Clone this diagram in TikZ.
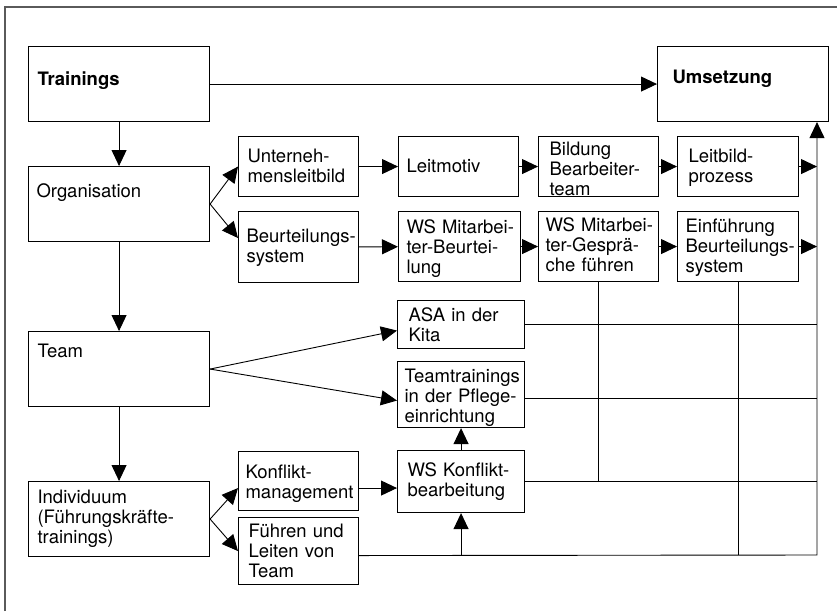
\documentclass[tikz,border=0pt]{standalone}
\usepackage{fontspec}
\setmainfont{TeX Gyre Heros}
\usepackage{tikz}
\usetikzlibrary{arrows.meta,positioning,calc}
\definecolor{fgray}{HTML}{5A5A5A}
\hyphenpenalty=10000
\exhyphenpenalty=10000

\begin{document}
\begin{tikzpicture}[x=1pt, y=-1pt,
    box/.style={rectangle, draw, line width=1.1pt, anchor=north west, inner xsep=8pt, inner ysep=0pt, align=left, font=\fontsize{18.5}{20}\selectfont},
    arr/.style={-{Triangle[length=16pt,width=15pt]}, line width=0.9pt},
    ln/.style={line width=0.9pt}
]
    \useasboundingbox (0,0) rectangle (837,611);
    \draw[fgray, line width=1.6pt] (5,611) -- (5,7) -- (837,7);

    % left column
    \node[box, inner xsep=9pt, text width=163pt, text height=39pt, text depth=36pt] (train) at (28,46) {\bfseries Trainings};
    \node[box, text width=165pt, text height=31pt, text depth=44pt] (org) at (28,166) {Organisation};
    \node[box, inner xsep=9pt, text width=163pt, text height=26pt, text depth=49pt] (team) at (28,331) {Team};
    \node[box, inner xsep=9pt, text width=163pt, text height=22pt, text depth=53pt] (indiv) at (28,481) {Individuum\\(Führungskräfte-\\trainings)};
    \node[box, inner xsep=15pt, text width=141pt, text height=37pt, text depth=38pt] (ums) at (657,46) {\bfseries Umsetzung};

    % organisation rows
    \node[box, inner xsep=9pt, text width=102pt, text height=26pt, text depth=34pt] (unt) at (238,136) {Unterneh-\\mensleitbild};
    \node[box, text width=104pt, text height=36pt, text depth=24pt] (leit) at (398,136) {Leitmotiv};
    \node[box, inner xsep=11pt, text width=98pt, text height=19pt, text depth=41pt] (bild) at (538,136) {Bildung\\Bearbeiter-\\team};
    \node[box, inner xsep=11pt, text width=99pt, text height=26pt, text depth=34pt] (lbp) at (677,136) {Leitbild-\\prozess};
    \node[box, text width=104pt, text height=31pt, text depth=40pt] (beu) at (238,211) {Beurteilungs-\\system};
    \node[box, text width=106pt, text height=22pt, text depth=48pt] (wsmb) at (398,211) {WS~Mitarbei-\\ter-Beurtei-\\lung};
    \node[box, inner xsep=7pt, text width=106pt, text height=20pt, text depth=50pt] (wsmg) at (538,211) {WS~Mitarbei-\\ter-Gesprä-\\che~führen};
    \node[box, text width=105pt, text height=21pt, text depth=49pt] (einf) at (677,211) {Einführung\\Beurteilungs-\\system};

    % team and individuum
    \node[box, inner xsep=11pt, text width=105pt, text height=21pt, text depth=27pt] (asa) at (397,300) {ASA~in~der\\Kita};
    \node[box, inner xsep=7pt, text width=113pt, text height=21pt, text depth=45pt] (ttr) at (397,361) {Teamtrainings\\in~der~Pflege-\\einrichtung};
    \node[box, inner xsep=10pt, text width=107pt, text height=26pt, text depth=36pt] (wsk) at (397,450) {WS~Konflikt-\\bearbeitung};
    \node[box, inner xsep=7pt, text width=106pt, text height=27pt, text depth=32pt] (kmg) at (238,451) {Konflikt-\\management};
    \node[box, inner xsep=10pt, text width=100pt, text height=20pt, text depth=47pt] (fuh) at (238,517) {Führen~und\\Leiten~von\\Team};

    \coordinate (rb) at (817,555);

    \draw[arr] (train.east) -- (ums.west);
    \draw[arr] (train.south) -- (org.north);
    \draw[arr] (org.south) -- (team.north);
    \draw[arr] (team.south) -- (indiv.north);

    \draw[arr] (org.east) -- (unt.west);
    \draw[arr] (org.east) -- ([yshift=9pt]beu.west);
    \draw[arr] (unt) -- (leit);
    \draw[arr] (leit) -- (bild);
    \draw[arr] (bild) -- (lbp);
    \draw[arr] (beu) -- (wsmb);
    \draw[arr] (wsmb) -- (wsmg);
    \draw[arr] (wsmg) -- (einf);
    \draw[arr] (lbp.east) -- (lbp.east -| rb);
    \draw[arr] (einf.east) -- (einf.east -| rb);

    \draw[arr] (team.east) -- ([yshift=-6pt]asa.west);
    \draw[arr] (team.east) -- ([yshift=-6pt]ttr.west);
    \draw[arr] (indiv.east) -- ([yshift=-7pt]kmg.west);
    \draw[arr] (indiv.east) -- (fuh.west);
    \draw[arr] ([yshift=-7pt]kmg.east) -- ([yshift=-7pt]kmg.east -| wsk.west);
    \draw[arr] (wsk) -- (ttr);

    \draw[ln] (asa.east) -- (asa.east -| rb);
    \draw[ln] ([yshift=-4pt]ttr.east) -- ([yshift=-4pt]ttr.east -| rb);
    \draw[ln] (wsk.east) -- (wsk.east -| rb);
    \draw[ln] (wsmg.south) -- (wsmg.south |- wsk.east);
    \draw[ln] (einf.south) -- (einf.south |- rb);
    \draw[arr] (wsk.south |- rb) -- (wsk.south);
    \draw[arr] ([yshift=-4.5pt]fuh.east) -- (rb) -- (rb |- ums.south);
\end{tikzpicture}
\end{document}
